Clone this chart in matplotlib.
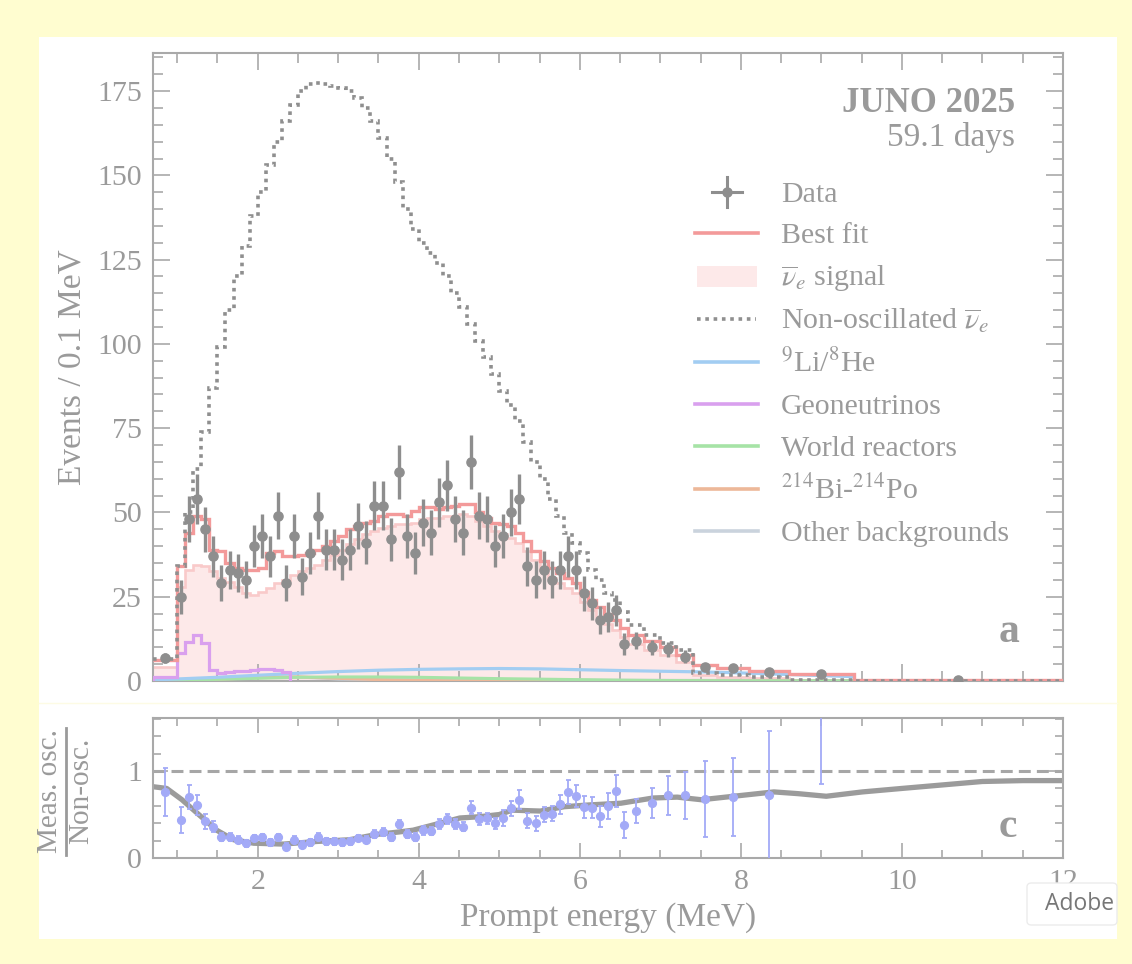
import numpy as np
import matplotlib
matplotlib.use("Agg")
import matplotlib.pyplot as plt
from matplotlib.lines import Line2D
from matplotlib.patches import Rectangle, FancyBboxPatch
from matplotlib.ticker import MultipleLocator

plt.rcParams['font.family'] = ['Liberation Serif', 'DejaVu Serif']
plt.rcParams['mathtext.fontset'] = 'stix'

# ---------------- data ----------------
fine_edges = list(np.round(np.arange(1.0, 6.6001, 0.1), 2))
bin_edges = [0.7] + fine_edges + [6.8, 7.0, 7.2, 7.4, 7.7, 8.1, 8.6, 9.4, 12.0]

data_counts = [6.7,
    25, 48, 54, 45, 37, 29, 33, 32, 30, 40,
    43, 37, 49, 29, 43, 31, 38, 49, 39, 39,
    36, 39, 46, 41, 52, 52, 42, 62, 43, 38,
    47, 44, 53, 58, 48, 44, 65, 49, 48, 40,
    43, 50, 54, 34, 30, 33, 30, 33, 37, 33,
    26, 23, 18, 19, 21, 11,
    12, 10, 9.4, 7.2, 4.2, 3.8, 2.8, 2.1, 0.3]
data_err = [1.5,
    5.0, 6.9, 7.3, 6.7, 6.1, 5.4, 5.7, 5.7, 5.5, 6.3,
    6.6, 6.1, 7.0, 5.4, 6.6, 5.6, 6.2, 7.0, 6.2, 6.2,
    6.0, 6.2, 6.8, 6.4, 7.2, 7.2, 6.5, 7.9, 6.6, 6.2,
    6.9, 6.6, 7.3, 7.6, 6.9, 6.6, 8.1, 7.0, 6.9, 6.3,
    6.6, 7.1, 7.3, 5.8, 5.5, 5.7, 5.5, 5.7, 6.1, 5.7,
    5.1, 4.8, 4.2, 4.4, 4.6, 3.3,
    2.4, 2.2, 2.2, 1.9, 1.2, 1.0, 0.75, 0.5, 0.1]
best_fit = [6.3,
    34, 44, 49, 48, 39, 38.5, 35, 33.5, 33, 33,
    33.5, 38, 38.5, 37, 37, 37.5, 38, 39, 40, 41.5,
    43, 45, 46, 47, 47.5, 49, 49.5, 49.5, 49, 50.5,
    51.5, 51.5, 51, 51.5, 52, 52.5, 52.5, 50, 48.5, 47,
    46.5, 46, 44, 41.5, 38.5, 35.5, 33.5, 32, 30.5, 29,
    26.5, 24, 22, 19.8, 18, 15.8,
    13.6, 11.8, 10.2, 7.8, 4.7, 3.8, 3.0, 2.1, 0.4]
signal = [4.3,
    28, 33, 34.5, 34, 32.5, 30.5, 29.5, 28, 26, 25.5,
    26.5, 27.5, 29, 30, 31.5, 32.5, 33.5, 34.5, 36, 37.5,
    39, 40.5, 42, 43.5, 44.5, 45.5, 46, 46.5, 46.5, 47,
    48, 48.5, 48.5, 49, 49, 49.5, 49, 47.5, 46, 44.5,
    43.5, 42.5, 41, 38.5, 36, 33, 30.5, 29, 27.5, 26,
    23.5, 21, 19, 16.8, 15.2, 13,
    11, 9.3, 7.6, 5.5, 1.8, 1.2, 1.0, 0.4, 0.05]
non_osc = [6.6,
    34, 50, 63, 74, 87, 99, 110, 120, 129, 138,
    145, 153, 160, 166, 171, 175, 177, 177.5, 177, 176.5,
    176, 175, 173, 170, 166, 161, 155, 148, 140, 134,
    130, 127, 124, 120, 115, 111, 106, 101, 96, 91,
    86, 82, 77, 71, 65, 60, 54, 49, 44, 41,
    38, 33, 30, 26, 24, 20.5,
    16.5, 13.5, 11.2, 9.2, 2.5, 1.8, 1.1, 0.3, 0.0]
geo = [1.3, 8.2, 11.7, 13.6, 11.4, 3.3, 2.5, 2.6, 2.9, 3.1, 3.3,
       3.5, 3.6, 3.4, 2.7]

bkg_energy = [0.7, 1.0, 1.5, 2.0, 2.5, 3.0, 3.5, 4.0, 4.5, 5.0, 5.5, 6.0,
              6.5, 7.0, 7.5, 8.0, 8.5, 9.0, 9.4]
li9_he8 = [0.3, 0.6, 1.1, 1.7, 2.3, 2.8, 3.2, 3.45, 3.6, 3.7, 3.6, 3.35,
           3.1, 2.9, 2.7, 2.4, 2.0, 1.6, 1.3]
world_reactors = [0.1, 0.2, 0.5, 0.8, 1.1, 1.2, 1.2, 1.1, 0.9, 0.7, 0.55,
                  0.4, 0.25, 0.15, 0.1, 0.05, 0.03, 0.02, 0.01]
bipo = [0.05, 0.1, 0.5, 1.0, 1.2, 0.8, 0.4, 0.15, 0.05, 0.02, 0.0, 0.0,
        0.0, 0.0, 0.0, 0.0, 0.0, 0.0, 0.0]
other_bkg = [0.3, 0.4, 0.6, 1.3, 1.2, 0.6, 0.45, 0.4, 0.35, 0.3, 0.3, 0.25,
             0.22, 0.2, 0.18, 0.15, 0.12, 0.1, 0.1]

ratio_vals = [0.76,
    0.44, 0.70, 0.61, 0.42, 0.36, 0.24, 0.245, 0.21, 0.17, 0.23,
    0.24, 0.18, 0.24, 0.13, 0.21, 0.15, 0.18, 0.245, 0.19, 0.19,
    0.18, 0.19, 0.23, 0.21, 0.28, 0.295, 0.245, 0.39, 0.275, 0.245,
    0.32, 0.31, 0.39, 0.45, 0.39, 0.36, 0.58, 0.45, 0.455, 0.40,
    0.46, 0.57, 0.67, 0.43, 0.40, 0.50, 0.51, 0.62, 0.76, 0.71,
    0.59, 0.58, 0.48, 0.60, 0.77, 0.38,
    0.54, 0.63, 0.72, 0.72, 0.68, 0.70, 0.72, 1.9]
ratio_err = [0.28,
    0.15, 0.14, 0.12, 0.09, 0.065, 0.05, 0.045, 0.04, 0.04, 0.04,
    0.04, 0.04, 0.04, 0.04, 0.04, 0.04, 0.04, 0.04, 0.04, 0.04,
    0.04, 0.04, 0.04, 0.04, 0.045, 0.045, 0.045, 0.05, 0.045, 0.045,
    0.05, 0.05, 0.055, 0.06, 0.055, 0.055, 0.07, 0.065, 0.065, 0.065,
    0.09, 0.09, 0.11, 0.085, 0.085, 0.09, 0.09, 0.11, 0.14, 0.125,
    0.125, 0.125, 0.12, 0.15, 0.18, 0.15,
    0.14, 0.175, 0.22, 0.27, 0.44, 0.45, 0.74, 1.05]

ratio_curve_E = [0.7, 0.87, 1.06, 1.28, 1.49, 1.70, 1.95, 2.32, 2.73, 3.14,
                 3.47, 3.76, 3.93, 4.18, 4.51, 4.76, 5.0, 5.16, 5.51, 5.81,
                 6.11, 6.51, 6.91, 7.21, 7.51, 7.91, 8.41, 8.71, 9.06, 9.51,
                 10.0, 10.5, 11.0, 11.5, 12.0]
ratio_curve = [0.82, 0.80, 0.67, 0.49, 0.32, 0.21, 0.17, 0.16, 0.19, 0.21,
               0.27, 0.30, 0.32, 0.38, 0.46, 0.475, 0.50, 0.55, 0.54, 0.59,
               0.61, 0.63, 0.69, 0.70, 0.67, 0.71, 0.76, 0.74, 0.71, 0.76,
               0.80, 0.84, 0.88, 0.89, 0.89]

legend_labels = ["Data", "Best fit", r"$\overline{\nu}_e$ signal",
                 r"Non-oscillated $\overline{\nu}_e$", r"$^{9}$Li/$^{8}$He",
                 "Geoneutrinos", "World reactors", r"$^{214}$Bi-$^{214}$Po",
                 "Other backgrounds"]

# ---------------- style ----------------
TXT = '#9a9a9a'
SPINE = '#a9a9a9'
C_DATA = '#8e8e8e'
C_FIT = '#f39a9a'
C_SIGF = '#fde9e9'
C_SIGL = '#f9caca'
C_NOSC = '#8f8f8f'
C_LI = '#a2cdf2'
C_GEO = '#d9a0ee'
C_WR = '#a6e3a6'
C_BIPO = '#edb899'
C_OTH = '#cad3dd'
C_RAT = '#a3aaf7'

W, H = 1132, 964
fig = plt.figure(figsize=(W / 100, H / 100), dpi=100)
fig.patch.set_facecolor('#fffdd0')

def fx(x):
    return x / W

def fy(y):
    return 1 - y / H

fig.add_artist(Rectangle((fx(39), fy(939)), (1117 - 39) / W, (939 - 37) / H,
                         transform=fig.transFigure, facecolor='white',
                         edgecolor='none', zorder=-5))
fig.add_artist(Line2D([fx(39), fx(1117)], [fy(703), fy(703)],
                      transform=fig.transFigure, color='#fdfbe4', lw=1.0, zorder=-4))

edges = np.array(bin_edges)
centers = 0.5 * (edges[:-1] + edges[1:])

ax = fig.add_axes([fx(153), fy(681), (1063 - 153) / W, (681 - 53) / H])
ax.set_facecolor('none')
ax.set_xlim(0.7, 12)
ax.set_ylim(0, 186.3)

ax.stairs(signal, edges, fill=True, color=C_SIGF, zorder=1, baseline=0)
ax.stairs(signal, edges, color=C_SIGL, lw=1.9, zorder=2, baseline=None)
ax.plot(bkg_energy, other_bkg, color=C_OTH, lw=2.2, zorder=3)
ax.plot(bkg_energy, bipo, color=C_BIPO, lw=2.2, zorder=3)
ax.plot(bkg_energy, world_reactors, color=C_WR, lw=2.2, zorder=3)
ax.plot(bkg_energy, li9_he8, color=C_LI, lw=2.3, zorder=3)
ax.stairs(geo, edges[:len(geo) + 1], color=C_GEO, lw=2.3, zorder=3, baseline=0)
ax.stairs(best_fit, edges, color=C_FIT, lw=2.4, zorder=4, baseline=None)
ax.stairs(non_osc, edges, color=C_NOSC, lw=2.6, linestyle=(0, (1.0, 1.3)),
          zorder=5, baseline=None)
ax.errorbar(centers, data_counts, yerr=data_err, fmt='o', color=C_DATA,
            ms=6.6, elinewidth=2.4, capsize=0, zorder=6)

for sp in ax.spines.values():
    sp.set_color(SPINE)
    sp.set_linewidth(1.5)
ax.xaxis.set_major_locator(MultipleLocator(2))
ax.xaxis.set_minor_locator(MultipleLocator(0.5))
ax.yaxis.set_major_locator(MultipleLocator(25))
ax.yaxis.set_minor_locator(MultipleLocator(5))
ax.tick_params(which='both', direction='in', top=True, right=True,
               color=SPINE, labelcolor=TXT, labelsize=21.5, width=1.2)
ax.tick_params(which='major', length=12, pad=8)
ax.tick_params(which='minor', length=7)
ax.tick_params(axis='x', labelbottom=False)
ax.set_ylabel("Events / 0.1 MeV", fontsize=24, color=TXT, labelpad=7)

fig.text(fx(1015), fy(112), "JUNO 2025", fontsize=25, fontweight='bold',
         color=TXT, ha='right', va='baseline')
fig.text(fx(1015), fy(146), "59.1 days", fontsize=24, color=TXT,
         ha='right', va='baseline')
fig.text(fx(1009), fy(642), "a", fontsize=30, fontweight='bold', color=TXT,
         ha='center', va='baseline')

# legend (manual rows)
row_y = [192, 233, 276.5, 319, 361.5, 404, 446, 488.5, 531]
lx0, lx1, tx = 695, 758, 781
fig.add_artist(Line2D([fx(712), fx(742)], [fy(row_y[0])] * 2,
                      transform=fig.transFigure, color=C_DATA, lw=2.2))
fig.add_artist(Line2D([fx(727), fx(727)], [fy(row_y[0] - 15), fy(row_y[0] + 15)],
                      transform=fig.transFigure, color=C_DATA, lw=2.2))
fig.add_artist(Line2D([fx(727)], [fy(row_y[0])], transform=fig.transFigure,
                      color=C_DATA, marker='o', ms=6.5))
fig.add_artist(Line2D([fx(lx0), fx(lx1)], [fy(row_y[1])] * 2,
                      transform=fig.transFigure, color=C_FIT, lw=2.6))
fig.add_artist(Rectangle((fx(697), fy(row_y[2] + 10)), 60 / W, 20 / H,
                         transform=fig.transFigure, facecolor=C_SIGF,
                         edgecolor='none'))
fig.add_artist(Line2D([fx(697), fx(756)], [fy(row_y[3])] * 2,
                      transform=fig.transFigure, color=C_NOSC, lw=2.6,
                      linestyle=(0, (1.0, 1.3))))
for yy, cc in zip(row_y[4:], [C_LI, C_GEO, C_WR, C_BIPO, C_OTH]):
    fig.add_artist(Line2D([fx(lx0), fx(lx1)], [fy(yy)] * 2,
                          transform=fig.transFigure, color=cc, lw=2.6))
for yy, lab in zip(row_y, legend_labels):
    fig.text(fx(tx), fy(yy + 10), lab, fontsize=21.5, color=TXT,
             ha='left', va='baseline')

# ---------------- ratio panel ----------------
ax2 = fig.add_axes([fx(153), fy(858), (1063 - 153) / W, (858 - 718) / H])
ax2.set_facecolor('none')
ax2.set_xlim(0.7, 12)
ax2.set_ylim(0, 1.61)
ax2.axhline(1.0, color='#a6a6a6', lw=2.2, linestyle=(0, (3.9, 2.0)), zorder=1)
ax2.plot(ratio_curve_E, ratio_curve, color='#9b9b9b', lw=3.8, zorder=2,
         solid_capstyle='butt', solid_joinstyle='round')
ax2.errorbar(centers[:len(ratio_vals)], ratio_vals, yerr=ratio_err, fmt='o',
             color=C_RAT, ms=5.6, elinewidth=1.3, capsize=1.8, capthick=1.3,
             zorder=3)
for sp in ax2.spines.values():
    sp.set_color(SPINE)
    sp.set_linewidth(1.5)
ax2.xaxis.set_major_locator(MultipleLocator(2))
ax2.xaxis.set_minor_locator(MultipleLocator(0.5))
ax2.yaxis.set_major_locator(MultipleLocator(1))
ax2.yaxis.set_minor_locator(MultipleLocator(0.2))
ax2.tick_params(which='both', direction='in', top=True, right=True,
                color=SPINE, labelcolor=TXT, labelsize=21.5, width=1.2)
ax2.tick_params(which='major', length=11, pad=8)
ax2.tick_params(which='minor', length=6)
ax2.set_xlabel("Prompt energy (MeV)", fontsize=24, color=TXT, labelpad=5)
fig.text(fx(1008), fy(837), "c", fontsize=30, fontweight='bold', color=TXT,
         ha='center', va='baseline')

# fraction y-label
fig.text(fx(50), fy(791), "Meas. osc.", rotation=90, fontsize=21, color=TXT,
         ha='center', va='center')
fig.add_artist(Line2D([fx(66), fx(66)], [fy(728), fy(855)],
                      transform=fig.transFigure, color=TXT, lw=2.0))
fig.text(fx(81), fy(791), "Non-osc.", rotation=90, fontsize=21, color=TXT,
         ha='center', va='center')

# Adobe badge
fig.add_artist(FancyBboxPatch((fx(1027), fy(925)), (1117 - 1027) / W, (925 - 883) / H,
                              boxstyle='round,pad=0,rounding_size=0.004',
                              transform=fig.transFigure, facecolor='white',
                              edgecolor='#ececec', lw=1.0, zorder=10))
fig.text(fx(1080), fy(904), "Adobe", fontsize=16.5, family='Open Sans',
         color='#777777', ha='center', va='center', zorder=11)

fig.savefig("out.png", dpi=100, facecolor=fig.get_facecolor())
